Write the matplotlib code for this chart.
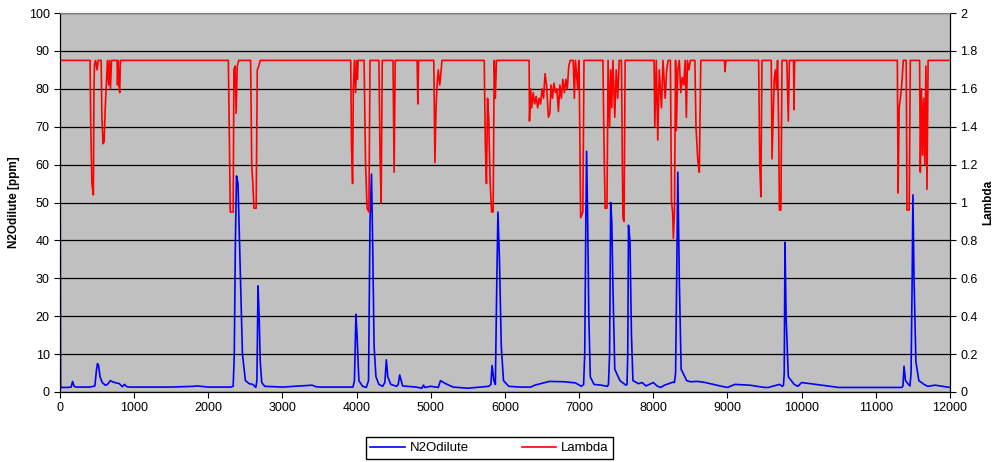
import matplotlib
matplotlib.use('Agg')
import matplotlib.pyplot as plt

plt.rcParams['font.family'] = ['Liberation Sans', 'DejaVu Sans']

# N2O verduennt [ppm]: (Zeit, Wert)
n2o = [(0, 50), (3, 50), (8, 1.0), (15, 1.2), (100, 1.2), (150, 1.3), (170, 2.8), (190, 1.5),
       (220, 1.3), (400, 1.3), (470, 1.6), (490, 5.5), (505, 7.5), (520, 7.0), (540, 4.0),
       (570, 2.5), (610, 1.8), (640, 2.0), (680, 3.0), (720, 2.6), (760, 2.4), (800, 2.2),
       (840, 1.4), (870, 2.0), (900, 1.4), (950, 1.3), (1200, 1.3), (1500, 1.3), (1800, 1.5),
       (1850, 1.6), (2000, 1.3), (2300, 1.3), (2335, 1.5), (2350, 10), (2365, 40), (2380, 57),
       (2400, 55), (2420, 40), (2440, 25), (2460, 10), (2500, 3.0), (2550, 2.2), (2600, 2.0),
       (2640, 1.2), (2655, 3.0), (2670, 28), (2685, 20), (2700, 8.0), (2720, 2.5), (2760, 1.5),
       (3000, 1.3), (3400, 1.8), (3450, 1.4), (3500, 1.3), (3950, 1.3), (3970, 3.0),
       (3990, 20.5), (4005, 15), (4030, 3.0), (4080, 1.5), (4130, 1.2), (4160, 3.0),
       (4180, 45), (4200, 57.5), (4215, 40), (4235, 12), (4260, 4.0), (4300, 2.0), (4350, 1.5),
       (4380, 2.5), (4400, 8.5), (4420, 4.0), (4460, 2.0), (4540, 1.5), (4560, 2.0),
       (4580, 4.5), (4620, 1.6), (4800, 1.3), (4880, 1.0), (4900, 1.8), (4920, 1.2),
       (5000, 1.5), (5100, 1.2), (5130, 3.0), (5200, 2.2), (5300, 1.3), (5500, 1.0),
       (5780, 1.5), (5810, 2.0), (5825, 7.0), (5850, 3.0), (5870, 2.0), (5890, 30),
       (5905, 47.5), (5925, 35), (5950, 12), (5980, 3.0), (6050, 1.5), (6200, 1.3),
       (6350, 1.3), (6400, 1.8), (6600, 2.8), (6800, 2.7), (6900, 2.5), (6950, 2.4),
       (7030, 1.5), (7060, 2.0), (7075, 10), (7090, 45), (7100, 63.5), (7115, 45), (7130, 20),
       (7150, 4.0), (7200, 2.0), (7300, 1.8), (7380, 1.5), (7395, 2.0), (7410, 10), (7425, 50),
       (7440, 45), (7455, 28), (7480, 6.0), (7550, 3.0), (7630, 1.8), (7645, 2.0), (7655, 10),
       (7665, 44), (7685, 40), (7705, 15), (7725, 3.0), (7800, 2.2), (7850, 2.5), (7900, 1.6),
       (8000, 2.5), (8050, 1.6), (8100, 1.2), (8150, 1.8), (8250, 2.5), (8270, 2.6),
       (8285, 2.5), (8300, 5.0), (8315, 30), (8330, 58), (8350, 30), (8375, 6.0), (8450, 3.0),
       (8500, 2.7), (8600, 2.8), (8700, 2.5), (8900, 1.6), (9000, 1.2), (9100, 2.0),
       (9300, 1.8), (9500, 1.2), (9550, 1.2), (9700, 2.0), (9740, 1.5), (9755, 1.8),
       (9765, 5.0), (9775, 39.5), (9790, 20), (9820, 4.0), (9900, 2.0), (9950, 1.5),
       (10000, 2.5), (10500, 1.2), (11000, 1.2), (11300, 1.2), (11350, 1.2), (11365, 1.5),
       (11380, 6.8), (11400, 3.0), (11440, 2.0), (11460, 1.6), (11475, 5.0), (11490, 30),
       (11500, 52), (11515, 30), (11540, 8.0), (11580, 3.0), (11650, 2.0), (11700, 1.5),
       (11800, 1.8), (12000, 1.2)]

# Lambda: (Zeit, Wert)
lam = [(0, 1.75), (405, 1.75), (415, 1.40), (430, 1.10), (450, 1.04), (458, 1.60), (465, 1.73),
       (480, 1.75), (500, 1.70), (515, 1.75), (555, 1.75), (565, 1.45), (580, 1.31),
       (595, 1.32), (610, 1.50), (625, 1.62), (640, 1.75), (655, 1.62), (668, 1.75),
       (680, 1.60), (695, 1.75), (770, 1.75), (775, 1.62), (785, 1.75), (795, 1.62),
       (805, 1.58), (815, 1.75), (2270, 1.75), (2285, 1.30), (2295, 0.95), (2335, 0.95),
       (2345, 1.70), (2360, 1.72), (2375, 1.47), (2390, 1.72), (2410, 1.75), (2570, 1.75),
       (2585, 1.20), (2600, 1.10), (2615, 0.97), (2645, 0.97), (2660, 1.70), (2680, 1.72),
       (2700, 1.75), (3920, 1.75), (3930, 1.30), (3945, 1.10), (3955, 1.60), (3970, 1.75),
       (3985, 1.58), (4000, 1.75), (4010, 1.65), (4020, 1.75), (4100, 1.75), (4120, 1.20),
       (4140, 0.97), (4165, 0.95), (4180, 1.75), (4300, 1.75), (4315, 1.25), (4330, 1.00),
       (4345, 1.75), (4490, 1.75), (4505, 1.16), (4520, 1.75), (4815, 1.75), (4825, 1.52),
       (4835, 1.75), (5040, 1.75), (5055, 1.21), (5070, 1.50), (5085, 1.62), (5100, 1.70),
       (5120, 1.62), (5135, 1.68), (5150, 1.75), (5720, 1.75), (5735, 1.30), (5750, 1.10),
       (5765, 1.55), (5780, 1.45), (5800, 1.10), (5820, 0.95), (5840, 0.95), (5855, 1.75),
       (5870, 1.55), (5885, 1.75), (6325, 1.75), (6330, 1.43), (6345, 1.60), (6360, 1.50),
       (6380, 1.58), (6400, 1.52), (6420, 1.56), (6440, 1.50), (6460, 1.55), (6480, 1.52),
       (6500, 1.60), (6520, 1.55), (6540, 1.68), (6560, 1.62), (6585, 1.45), (6605, 1.47),
       (6620, 1.62), (6640, 1.55), (6660, 1.63), (6680, 1.58), (6700, 1.60), (6720, 1.48),
       (6740, 1.62), (6760, 1.55), (6780, 1.65), (6800, 1.58), (6820, 1.65), (6840, 1.60),
       (6860, 1.72), (6880, 1.75), (6920, 1.75), (6935, 1.55), (6950, 1.75), (6980, 1.60),
       (6995, 1.75), (7000, 1.70), (7010, 1.30), (7020, 0.92), (7050, 0.95), (7065, 1.75),
       (7320, 1.75), (7335, 1.30), (7350, 0.97), (7375, 0.97), (7390, 1.75), (7410, 1.40),
       (7425, 1.70), (7440, 1.50), (7455, 1.75), (7480, 1.45), (7500, 1.70), (7520, 1.55),
       (7540, 1.75), (7570, 1.75), (7580, 1.30), (7590, 0.92), (7605, 0.90), (7620, 1.75),
       (8010, 1.75), (8020, 1.40), (8040, 1.75), (8060, 1.33), (8080, 1.70), (8110, 1.50),
       (8130, 1.75), (8160, 1.55), (8180, 1.70), (8200, 1.75), (8230, 1.75), (8245, 1.00),
       (8260, 0.95), (8270, 0.81), (8285, 0.95), (8300, 1.75), (8310, 1.38), (8330, 1.70),
       (8350, 1.75), (8370, 1.58), (8390, 1.66), (8410, 1.62), (8430, 1.75), (8445, 1.45),
       (8460, 1.75), (8480, 1.70), (8500, 1.75), (8560, 1.75), (8575, 1.40), (8600, 1.22),
       (8620, 1.16), (8640, 1.75), (8960, 1.75), (8965, 1.69), (8980, 1.75), (9420, 1.75),
       (9435, 1.20), (9450, 1.03), (9465, 1.75), (9590, 1.75), (9600, 1.23), (9615, 1.45),
       (9630, 1.65), (9645, 1.70), (9660, 1.60), (9675, 1.75), (9690, 1.40), (9700, 0.96),
       (9720, 0.96), (9735, 1.75), (9800, 1.75), (9810, 1.60), (9820, 1.43), (9835, 1.75),
       (9890, 1.75), (9897, 1.49), (9905, 1.75), (11290, 1.75), (11300, 1.05), (11315, 1.50),
       (11340, 1.58), (11355, 1.65), (11370, 1.75), (11410, 1.75), (11420, 0.96),
       (11450, 0.96), (11465, 1.75), (11590, 1.75), (11600, 1.16), (11615, 1.60),
       (11630, 1.25), (11645, 1.55), (11660, 1.20), (11675, 1.72), (11690, 1.07),
       (11705, 1.75), (12000, 1.75)]

n2o_t, n2o_ppm = zip(*n2o)
lam_t, lam_wert = zip(*lam)

fig = plt.figure(figsize=(9.95, 4.62), dpi=100)
ax = fig.add_axes([60 / 995, 1 - 392 / 462, 890 / 995, 379 / 462])
ax.set_facecolor('#c0c0c0')

ax.plot(n2o_t, n2o_ppm, color='#0000ff', lw=1.2, label='N2Odilute')
ax.set_xlim(0, 12000)
ax.set_ylim(0, 100)
ax.set_xticks(range(0, 12001, 1000))
ax.set_yticks(range(0, 101, 10))
ax.yaxis.grid(True, color='black', lw=0.9)
ax.set_axisbelow(True)
ax.set_ylabel('N2Odilute [ppm]', fontsize=8.5, fontweight='bold', labelpad=6)
ax.tick_params(labelsize=9, length=4, width=0.8)
ax.spines['top'].set_color('#808080')

ax2 = ax.twinx()
ax2.plot(lam_t, lam_wert, color='#ff0000', lw=1.2, label='Lambda')
ax2.set_ylim(0, 2)
ax2.set_yticks([0, 0.2, 0.4, 0.6, 0.8, 1, 1.2, 1.4, 1.6, 1.8, 2])
ax2.set_yticklabels(['0', '0.2', '0.4', '0.6', '0.8', '1', '1.2', '1.4', '1.6', '1.8', '2'])
ax2.set_ylabel('Lambda', fontsize=8.5, fontweight='bold', labelpad=3)
ax2.tick_params(labelsize=9, length=4, width=0.8)
ax2.spines['top'].set_color('#808080')

h1, l1 = ax.get_legend_handles_labels()
h2, l2 = ax2.get_legend_handles_labels()
fig.legend(h1 + h2, l1 + l2, loc='center', bbox_to_anchor=(489.5 / 995, 1 - 448 / 462),
           ncol=2, fontsize=9.5, fancybox=False, edgecolor='black', framealpha=1,
           columnspacing=4, handlelength=2.6, handletextpad=0.4, borderpad=0.35)

fig.savefig('out.png', dpi=100)
